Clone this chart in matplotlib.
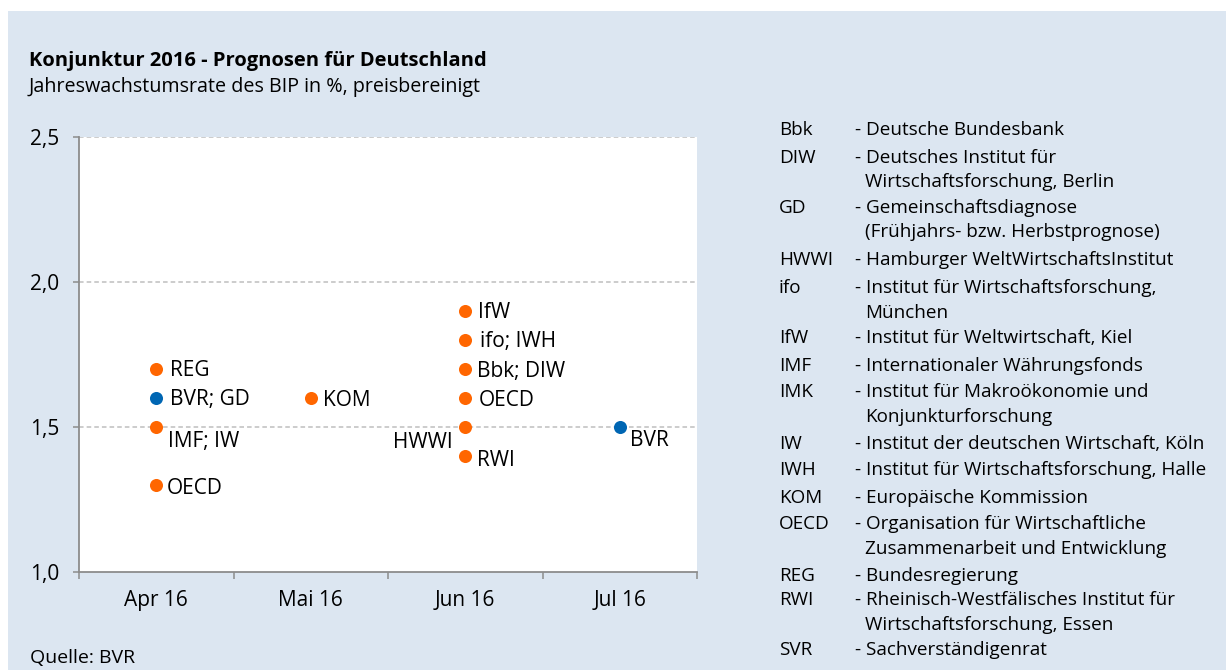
import matplotlib
matplotlib.use("Agg")
import matplotlib.pyplot as plt
from matplotlib.patches import Rectangle

# ---------------- data ----------------
months = ["Apr 16", "Mai 16", "Jun 16", "Jul 16"]
point_month = [0, 0, 0, 0, 1, 2, 2, 2, 2, 2, 2, 3]
point_value = [1.7, 1.6, 1.5, 1.3, 1.6, 1.9, 1.8, 1.7, 1.6, 1.5, 1.4, 1.5]
point_label = ["REG", "BVR; GD", "IMF; IW", "OECD", "KOM", "IfW", "ifo; IWH",
               "Bbk; DIW", "OECD", "HWWI", "RWI", "BVR"]
point_is_bvr = [False, True, False, False, False, False, False, False, False,
                False, False, True]
y_ticks = [1.0, 1.5, 2.0, 2.5]
y_ticklabels = ["1,0", "1,5", "2,0", "2,5"]

legend_abbr = ["Bbk", "DIW", "GD", "HWWI", "ifo", "IfW", "IMF", "IMK", "IW",
               "IWH", "KOM", "OECD", "REG", "RWI", "SVR"]
legend_desc = [
    "Deutsche Bundesbank",
    "Deutsches Institut für\nWirtschaftsforschung, Berlin",
    "Gemeinschaftsdiagnose\n(Frühjahrs- bzw. Herbstprognose)",
    "Hamburger WeltWirtschaftsInstitut",
    "Institut für Wirtschaftsforschung,\nMünchen",
    "Institut für Weltwirtschaft, Kiel",
    "Internationaler Währungsfonds",
    "Institut für Makroökonomie und\nKonjunkturforschung",
    "Institut der deutschen Wirtschaft, Köln",
    "Institut für Wirtschaftsforschung, Halle",
    "Europäische Kommission",
    "Organisation für Wirtschaftliche\nZusammenarbeit und Entwicklung",
    "Bundesregierung",
    "Rheinisch-Westfälisches Institut für\nWirtschaftsforschung, Essen",
    "Sachverständigenrat",
]

title = "Konjunktur 2016 - Prognosen für Deutschland"
subtitle = "Jahreswachstumsrate des BIP in %, preisbereinigt"
source = "Quelle: BVR"

# ---------------- style / layout ----------------
W, H = 1226, 670
FONT = "Open Sans"
BG = "#DCE6F1"
ORANGE = "#FF6600"
BLUE = "#0066B3"
AXIS_GRAY = "#8C8C8C"
GRID_GRAY = "#BFBFBF"
LABEL_FS = 15
TICK_FS = 15
LEG_FS = 13.6

# label offsets in pixels (dx, dy, ha)
label_offsets = [(14, -1, "left"), (14, -1, "left"), (12, -14, "left"),
                 (11, -4, "left"), (12, -2, "left"), (13, -1, "left"),
                 (15, -1, "left"), (12, -3, "left"), (14, -2, "left"),
                 (-12, -15, "right"), (12, -5, "left"), (10, -14, "left")]

# legend row y positions (pixels from top) for the first line of each entry
legend_rows = [130, 158, 208, 260, 288, 338, 366, 392, 444, 470, 498, 524,
               576, 600, 650]
cont_gap = 24.5

plt.rcParams["font.family"] = [FONT, "DejaVu Sans"]

fig = plt.figure(figsize=(W / 100, H / 100), dpi=100)
fig.patch.set_facecolor("white")


def px(x, y):
    return x / W, 1 - y / H


# background panel
bx, by = px(8, H)
fig.patches.append(Rectangle((bx, by), 1 - bx, (H - 11) / H,
                             transform=fig.transFigure, facecolor=BG,
                             edgecolor="none", zorder=-10))

# axes
l, t, r, b = 79, 137, 697, 572
ax = fig.add_axes([l / W, 1 - b / H, (r - l) / W, (b - t) / H])
ax.set_facecolor("white")
ax.set_xlim(-0.5, len(months) - 0.5)
ax.set_ylim(1.0, 2.5)

for sp in ["top", "right"]:
    ax.spines[sp].set_visible(False)
for sp in ["left", "bottom"]:
    ax.spines[sp].set_color(AXIS_GRAY)
    ax.spines[sp].set_linewidth(1.3)

ax.set_yticks(y_ticks)
ax.set_yticklabels(y_ticklabels)
ax.tick_params(axis="y", length=4, width=1.1, color=AXIS_GRAY, pad=10,
               labelsize=TICK_FS, labelcolor="black")
ax.set_xticks(range(len(months)))
ax.set_xticklabels(months)
ax.tick_params(axis="x", which="major", length=0, pad=13, labelsize=TICK_FS,
               labelcolor="black")
ax.set_xticks([i - 0.5 for i in range(len(months) + 1)], minor=True)
ax.tick_params(axis="x", which="minor", length=5, width=1.1, color=AXIS_GRAY)

for v in y_ticks[1:]:
    ax.axhline(v, color=GRID_GRAY, lw=1.1, ls=(0, (3, 2)), zorder=1)

for i, (m, v, lab, isb) in enumerate(zip(point_month, point_value,
                                         point_label, point_is_bvr)):
    ax.plot(m, v, "o", ms=9.4, color=BLUE if isb else ORANGE, mec="none",
            zorder=3, clip_on=False)
    dx, dy, ha = label_offsets[i]
    ax.annotate(lab, (m, v), xytext=(dx, dy), textcoords="offset pixels",
                ha=ha, va="center", fontsize=LABEL_FS, color="black",
                zorder=4)

# titles
fig.text(*px(29, 61), title, fontsize=14.5, fontweight="bold", va="center",
         ha="left", color="black")
fig.text(*px(29, 87), subtitle, fontsize=14.2, va="center", ha="left",
         color="black")
fig.text(*px(30, 667), source, fontsize=14, va="bottom", ha="left",
         color="black")

# legend
for y, abbr, desc in zip(legend_rows, legend_abbr, legend_desc):
    fig.text(*px(779, y), abbr, fontsize=LEG_FS, va="center", ha="left")
    lines = desc.split("\n")
    fig.text(*px(855, y), "- " + lines[0], fontsize=LEG_FS, va="center",
             ha="left")
    for k, ln in enumerate(lines[1:], start=1):
        fig.text(*px(865, y + k * cont_gap), ln, fontsize=LEG_FS,
                 va="center", ha="left")

fig.savefig("out.png", dpi=100, facecolor=fig.get_facecolor())
